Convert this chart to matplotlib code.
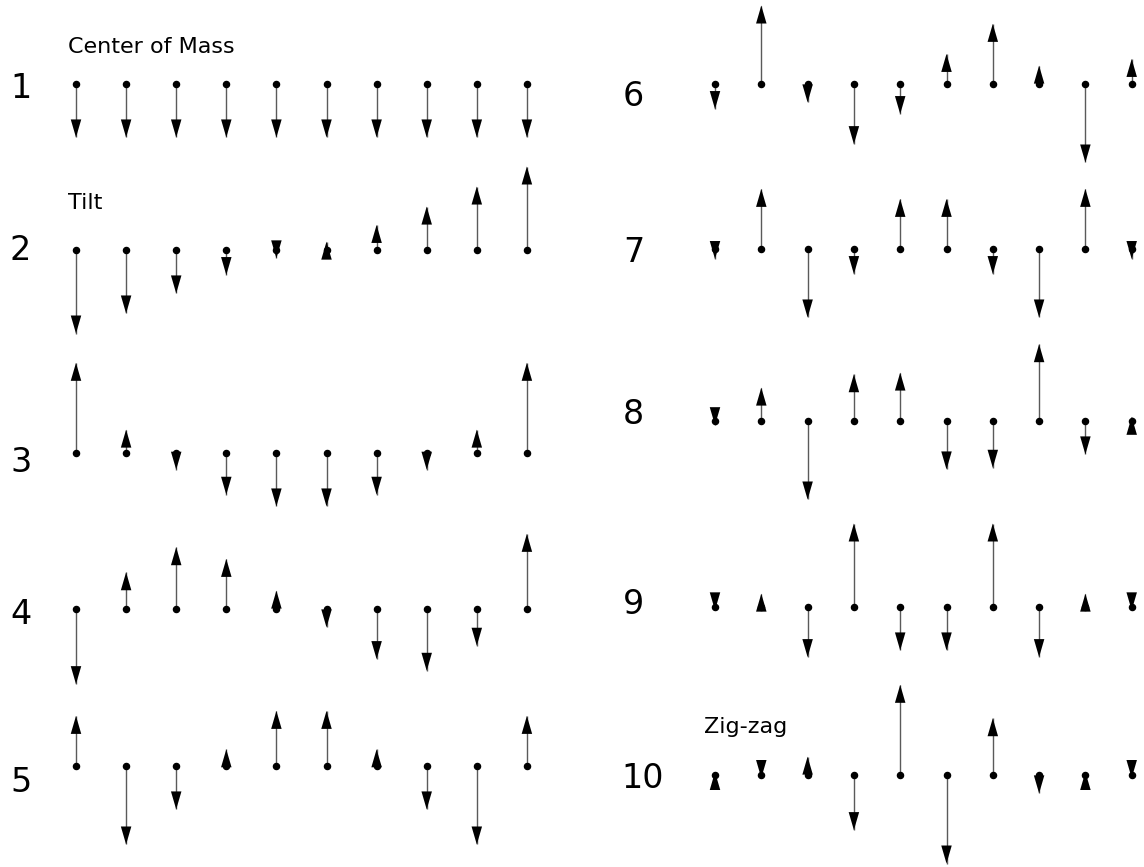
import matplotlib
matplotlib.use("Agg")
import matplotlib.pyplot as plt

# displacement of each of the 10 masses in every mode (up is positive)
mode1 = [-0.32, -0.32, -0.32, -0.32, -0.32, -0.32, -0.32, -0.32, -0.32, -0.32]
mode2 = [-0.50, -0.38, -0.26, -0.15, -0.05, 0.05, 0.15, 0.26, 0.38, 0.50]
mode3 = [0.54, 0.14, -0.10, -0.25, -0.32, -0.32, -0.25, -0.10, 0.14, 0.54]
mode4 = [-0.45, 0.22, 0.37, 0.30, 0.11, -0.11, -0.30, -0.37, -0.22, 0.45]
mode5 = [0.30, -0.47, -0.26, 0.10, 0.33, 0.33, 0.10, -0.26, -0.47, 0.30]
mode6 = [-0.15, 0.47, -0.11, -0.36, -0.18, 0.18, 0.36, 0.11, -0.47, 0.15]
mode7 = [-0.06, 0.36, -0.41, -0.15, 0.30, 0.30, -0.15, -0.41, 0.36, -0.06]
mode8 = [-0.025, 0.20, -0.47, 0.28, 0.29, -0.29, -0.28, 0.46, -0.20, 0.025]
mode9 = [-0.02, 0.08, -0.30, 0.50, -0.26, -0.26, 0.50, -0.30, 0.08, -0.02]
mode10 = [0.018, -0.018, 0.11, -0.33, 0.54, -0.53, 0.34, -0.11, 0.018, -0.018]

modes = [mode1, mode2, mode3, mode4, mode5, mode6, mode7, mode8, mode9, mode10]
mode_names = {1: "Center of Mass", 2: "Tilt", 10: "Zig-zag"}

W, H = 1144, 867
SCALE = 167.0  # pixels per unit displacement

# layout in pixels: (first x, spacing) per column, baseline and label y per row
col_x = [(76, 50.1), (715, 46.3)]
row_y = [84, 250, 453, 609, 766, 84, 249, 421, 607, 775]
label_pos = [(10, 89), (10, 251), (10, 462), (10, 614), (10, 782),
             (623, 97), (623, 253), (623, 415), (623, 605), (621, 779)]
name_pos = {1: (68, 47), 2: (68, 203), 10: (704, 727)}

fig = plt.figure(figsize=(W / 100, H / 100), dpi=100)
ax = fig.add_axes([0, 0, 1, 1])
ax.set_xlim(0, W)
ax.set_ylim(H, 0)
ax.axis("off")

for i, amps in enumerate(modes):
    x0, dx = col_x[i // 5]
    y0 = row_y[i]
    xs = [x0 + k * dx for k in range(len(amps))]
    tips = [y0 - a * SCALE for a in amps]
    # thin shafts, then solid heads ending exactly at the tip
    ax.vlines(xs, y0, tips, colors="#5a5a5a", linewidth=1.0, zorder=2)
    for x, a in zip(xs, amps):
        ax.arrow(x, y0, 0, -a * SCALE, width=0, head_width=10.5, head_length=18,
                 length_includes_head=True, color="black", linewidth=0, zorder=3)
    ax.plot(xs, [y0] * len(xs), "o", ms=4.4, color="black", zorder=4)

    lx, ly = label_pos[i]
    ax.text(lx, ly, str(i + 1), fontsize=24, ha="left", va="center")
    if i + 1 in mode_names:
        nx, ny = name_pos[i + 1]
        ax.text(nx, ny, mode_names[i + 1], fontsize=16, ha="left", va="center")

fig.savefig("out.png", dpi=100)
